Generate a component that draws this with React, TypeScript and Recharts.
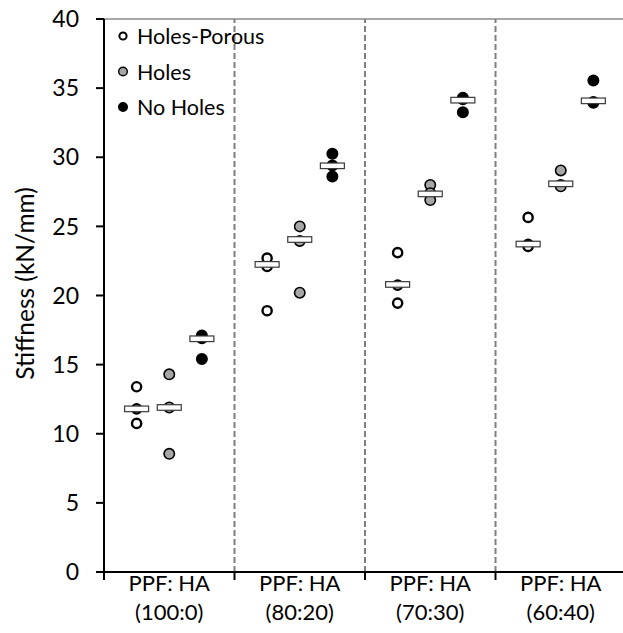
import React from "react";
import { ScatterChart, Scatter, XAxis, YAxis, ReferenceLine, Legend, Label } from "recharts";

const categoryPrefix = "PPF: HA";
const categories = ["(100:0)", "(80:20)", "(70:30)", "(60:40)"];
const seriesNames = ["Holes-Porous", "Holes", "No Holes"];

const holesPorous = [
  [13.4, 11.8, 10.75],
  [22.7, 22.1, 18.9],
  [23.1, 20.75, 19.45],
  [25.65, 23.7, 23.55],
];
const holes = [
  [14.3, 11.9, 8.55],
  [25.0, 23.95, 20.2],
  [28.0, 27.4, 26.9],
  [29.05, 28.0, 27.9],
];
const noHoles = [
  [17.1, 16.9, 15.4],
  [30.25, 29.4, 28.6],
  [34.3, 34.2, 33.25],
  [35.55, 34.0, 33.95],
];
const holesPorousMid = [11.8, 22.25, 20.8, 23.72];
const holesMid = [11.9, 24.05, 27.35, 28.08];
const noHolesMid = [16.87, 29.38, 34.13, 34.08];

const yTicks = [0, 5, 10, 15, 20, 25, 30, 35, 40];

const slot = [0.25, 0.5, 0.75];
const FONT = "Lato, 'Open Sans', sans-serif";
const fills = ["#ffffff", "#a6a6a6", "#000000"];

const seriesValues = [holesPorous, holes, noHoles];
const seriesMids = [holesPorousMid, holesMid, noHolesMid];

const pointData = seriesValues.map((vals, s) =>
  vals.flatMap((grp, g) => grp.map((v) => ({ x: g + slot[s], y: v })))
);
const midData = seriesMids.flatMap((mids, s) => mids.map((v, g) => ({ x: g + slot[s], y: v })));

const xTicks = [0, 0.5, 1, 1.5, 2, 2.5, 3, 3.5, 4];

const makeDot = (s: number) => (props: any) => {
  const { cx, cy } = props;
  if (cx == null || cy == null) return <g />;
  return s === 0 ? (
    <circle cx={cx} cy={cy} r={4.6} fill="#fff" stroke="#000" strokeWidth={2.4} />
  ) : (
    <circle cx={cx} cy={cy} r={5.2} fill={fills[s]} stroke="#000" strokeWidth={1.6} />
  );
};

const MidShape = (props: any) => {
  const { cx, cy } = props;
  if (cx == null || cy == null) return <g />;
  return <rect x={cx - 12} y={cy - 2.8} width={24} height={5.6} fill="#fff" stroke="#3a3a3a" strokeWidth={1.2} />;
};

const XTick = (props: any) => {
  const { x, y, payload } = props;
  const v = payload.value;
  if (Number.isInteger(v)) {
    return <line x1={x} y1={y} x2={x} y2={y + 8} stroke="#000" strokeWidth={2} />;
  }
  const idx = Math.floor(v);
  return (
    <g>
      <text x={x} y={y + 19} textAnchor="middle" fontFamily={FONT} fontSize={22} fill="#000">
        {categoryPrefix}
      </text>
      <text x={x} y={y + 48} textAnchor="middle" fontFamily={FONT} fontSize={22} fill="#000">
        {categories[idx]}
      </text>
    </g>
  );
};

const YLabel = (props: any) => {
  const vb = props.viewBox || { x: 0, y: 0, width: 0, height: 0 };
  const cx = vb.x + 16;
  const cy = vb.y + vb.height / 2 - 12;
  return (
    <text
      x={cx}
      y={cy}
      transform={`rotate(-90, ${cx}, ${cy})`}
      textAnchor="middle"
      dominantBaseline="central"
      fontFamily={FONT}
      fontSize={24.5}
      fill="#000"
    >
      Stiffness (kN/mm)
    </text>
  );
};

const LegendContent = (props: any) => {
  const names = (props.payload || []).map((p: any) => p.value);
  const shown = seriesNames.filter((n) => names.includes(n));
  return (
    <svg width={190} height={110}>
      {shown.map((name: string, i: number) => {
        const s = seriesNames.indexOf(name);
        const cy = 18 + i * 35.5;
        return (
          <g key={name}>
            {s === 0 ? (
              <circle cx={15} cy={cy} r={3.6} fill="#fff" stroke="#000" strokeWidth={2} />
            ) : (
              <circle cx={15} cy={cy} r={4.3} fill={fills[s]} stroke="#000" strokeWidth={1.4} />
            )}
            <text x={29} y={cy} dominantBaseline="central" fontFamily={FONT} fontSize={21.5} fill="#000">
              {name}
            </text>
          </g>
        );
      })}
    </svg>
  );
};

export default function App() {
  return (
    <div style={{ position: "absolute", left: 0, top: 0, width: 623, height: 633, overflow: "hidden", fontFamily: FONT }}>
      <ScatterChart width={638} height={633} margin={{ top: 19, right: 12, left: 8, bottom: 0 }}>
        <XAxis
          type="number"
          dataKey="x"
          domain={[0, 4]}
          ticks={xTicks}
          interval={0}
          tickLine={false}
          tickSize={0}
          tickMargin={0}
          tick={<XTick />}
          axisLine={{ stroke: "#000", strokeWidth: 2 }}
          height={61}
          allowDataOverflow
        />
        <YAxis
          type="number"
          dataKey="y"
          domain={[0, 40]}
          ticks={yTicks}
          interval={0}
          width={96}
          tickSize={8}
          tickMargin={17}
          tickLine={{ stroke: "#000", strokeWidth: 2 }}
          axisLine={{ stroke: "#000", strokeWidth: 2 }}
          tick={{ fill: "#000", fontSize: 23, fontFamily: FONT }}
        >
          <Label content={<YLabel />} />
        </YAxis>
        <ReferenceLine y={40} stroke="#8a8a8a" strokeWidth={1.5} />
        {[1, 2, 3].map((xv) => (
          <ReferenceLine key={xv} x={xv} stroke="#7f7f7f" strokeWidth={2} strokeDasharray="6 3" />
        ))}
        <Legend
          layout="vertical"
          align="center"
          verticalAlign="middle"
          content={<LegendContent />}
          wrapperStyle={{ left: 108, top: 18, width: 190, height: 110 }}
        />
        {seriesNames.map((name, s) => (
          <Scatter
            key={name}
            name={name}
            data={pointData[s]}
            fill={fills[s]}
            shape={makeDot(s)}
            isAnimationActive={false}
          />
        ))}
        <Scatter name="median" data={midData} shape={<MidShape />} legendType="none" isAnimationActive={false} />
      </ScatterChart>
    </div>
  );
}
